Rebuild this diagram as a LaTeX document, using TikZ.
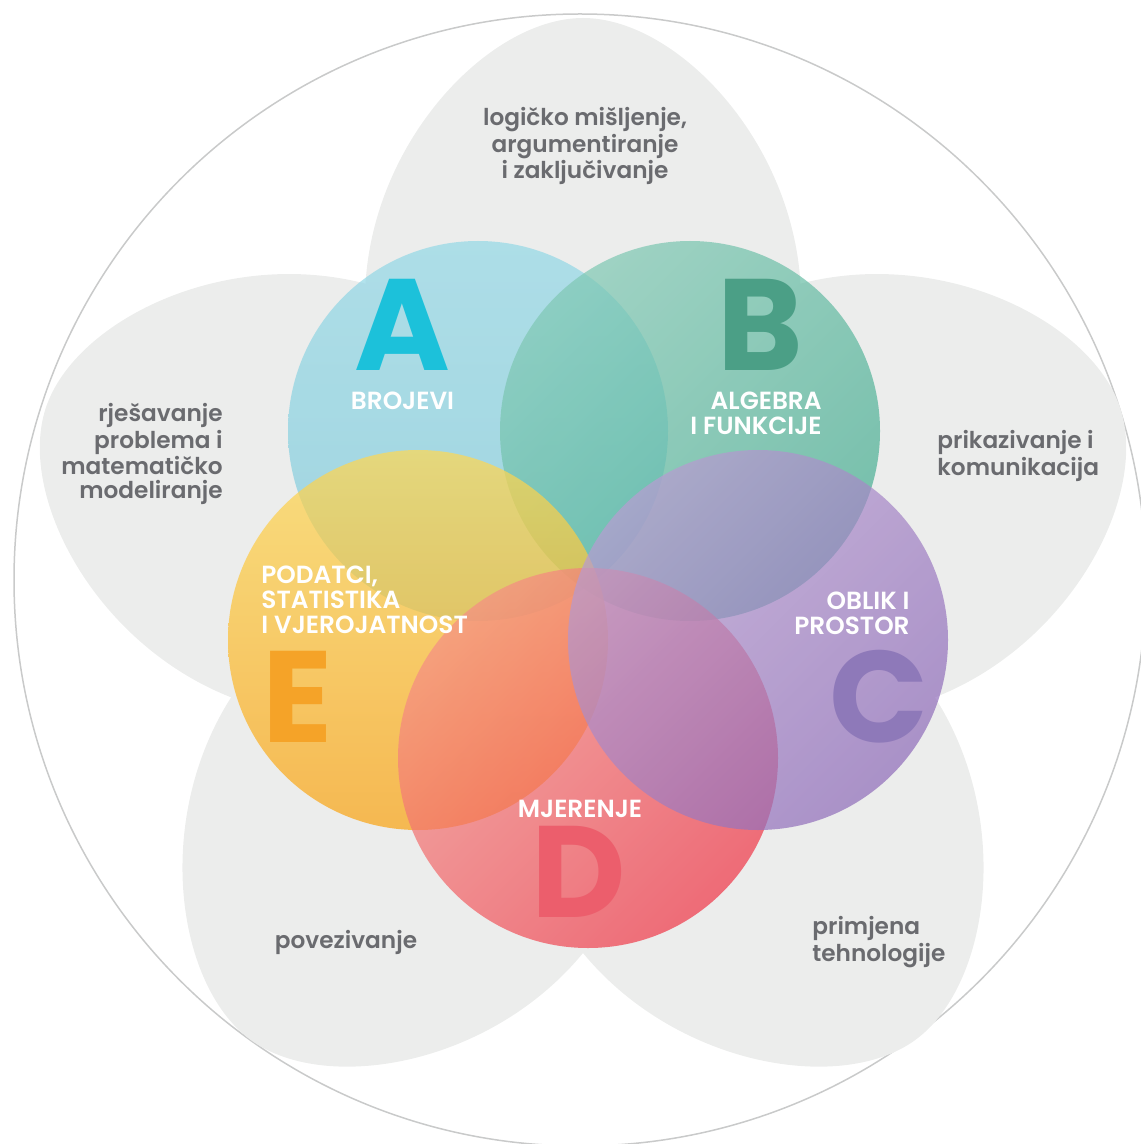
\documentclass[tikz,border=0pt]{standalone}
\usepackage{fontspec}
\setmainfont{Poppins}
\IfFontExistsTF{Poppins SemiBold}
  {\newfontfamily\areafont{Poppins SemiBold}\newfontfamily\petalfont{Poppins SemiBold}}
  {\newfontfamily\areafont[FakeBold=2]{Poppins}\newfontfamily\petalfont[FakeBold=1.5]{Poppins}}
\usepackage{xcolor}
\definecolor{petalgrey}{HTML}{ECEDEC}
\definecolor{rimgrey}{HTML}{C9CACA}
\definecolor{textgrey}{HTML}{6A6B6F}
\definecolor{lettera}{HTML}{1CC1DA}
\definecolor{letterb}{HTML}{4B9F86}
\definecolor{letterc}{HTML}{8E79B9}
\definecolor{letterd}{HTML}{EC5E6C}
\definecolor{lettere}{HTML}{F5A328}
% circle shadings (drawn at 70% opacity)
\definecolor{atop}{HTML}{93D8E6}
\definecolor{abot}{HTML}{7FCADB}
\definecolor{btop}{HTML}{7FC8B3}
\definecolor{bbot}{HTML}{46AD91}
\definecolor{ctop}{HTML}{B99CD2}
\definecolor{cbot}{HTML}{8E6BB9}
\definecolor{dtop}{HTML}{F58E85}
\definecolor{dbot}{HTML}{EF3546}
\definecolor{etop}{HTML}{FFD852}
\definecolor{ebot}{HTML}{FAA210}
\tikzset{
  petal/.style={fill=petalgrey},
  rim/.style={draw=rimgrey, line width=0.75pt},
  area/.style={circle, minimum size=190pt, inner sep=0, fill opacity=0.7},
  area a/.style={area, top color=atop, bottom color=abot},
  area b/.style={area, top color=btop, bottom color=bbot, shading angle=45},
  area c/.style={area, top color=ctop, bottom color=cbot, shading angle=45},
  area d/.style={area, top color=dtop, bottom color=dbot, shading angle=45},
  area e/.style={area, top color=etop, bottom color=ebot},
  letter/.style={font=\fontsize{65}{65}\selectfont\bfseries, inner sep=0},
  area label/.style={white, font=\areafont\fontsize{12.4}{12.5}\selectfont, inner sep=0},
  petal label/.style={textgrey, font=\petalfont\fontsize{11.6}{11.8}\selectfont, inner sep=0}
}

\begin{document}
\begin{tikzpicture}[x=0.5pt,y=0.5pt]
  \useasboundingbox (0,0) rectangle (1140,-1144);

  % --- BACKGROUND: RIM AND PETALS ---
  \draw[rim] (580,-580) circle [radius=566];
  \begin{scope}[shift={(583,-583)}]
    \foreach \r in {0,72,144,216,288}
      \fill[petal, rotate=\r] (0,0) .. controls (110,0) and (218,132) .. (218,282)
        .. controls (218,435) and (96,565) .. (0,565)
        .. controls (-96,565) and (-218,435) .. (-218,282)
        .. controls (-218,132) and (-110,0) .. (0,0) -- cycle;
  \end{scope}

  % --- AREAS (A, B, E, D, C) ---
  \node[area a] (brojevi) at (478,-431) {};
  \node[area b] (algebra) at (690,-431) {};
  \node[area e] (podatci) at (418,-640) {};
  \node[area d] (mjerenje) at (588,-758) {};
  \node[area c] (oblik) at (758,-640) {};

  % letters
  \node[letter, lettera] (A) at (402,-325) {A};
  \node[letter, letterb] (B) at (760,-325) {B};
  \node[letter, letterc] (C) at (879,-697) {C};
  \node[letter, letterd] (D) at (579,-872) {D};
  \node[letter, lettere] (E) at (298,-697) {E};

  % area names
  \node[area label] (brojevi-text) at (402.5,-400.5) {BROJEVI};
  \node[area label, anchor=east, align=right] (algebra-text) at (822,-413) {ALGEBRA\\I FUNKCIJE};
  \node[area label, anchor=east, align=right] (oblik-text) at (910,-613) {OBLIK I\\PROSTOR};
  \node[area label, anchor=west, align=left] (podatci-text) at (261,-600) {PODATCI,\\STATISTIKA\\I VJEROJATNOST};
  \node[area label] (mjerenje-text) at (580,-808.5) {MJERENJE};

  % --- PROCESSES (petal texts) ---
  \node[petal label, align=center] (logika) at (585,-146) {logičko mišljenje,\\argumentiranje\\i zaključivanje};
  \node[petal label, anchor=east, align=right] (problemi) at (223,-454) {rješavanje\\problema i\\matematičko\\modeliranje};
  \node[petal label, anchor=west, align=left] (komunikacija) at (937,-456) {prikazivanje i\\komunikacija};
  \node[petal label] (povezivanje) at (346,-942) {povezivanje};
  \node[petal label, anchor=west, align=left] (tehnologija) at (812,-942) {primjena\\tehnologije};

\end{tikzpicture}
\end{document}
